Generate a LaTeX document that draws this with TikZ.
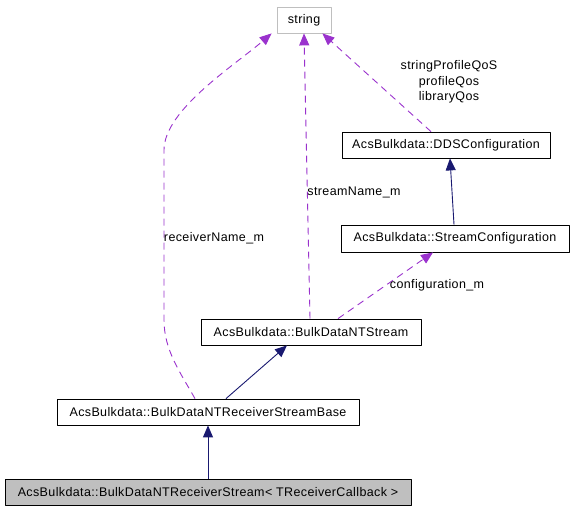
\documentclass[tikz,border=0pt]{standalone}
\usepackage{fontspec}
\setmainfont[LetterSpace=3]{Liberation Sans}
\usetikzlibrary{arrows.meta}
\definecolor{edgeblue}{HTML}{191970}
\definecolor{edgepurple}{HTML}{9A32CD}
\definecolor{boxgray}{HTML}{BFBFBF}
\begin{document}
\begin{tikzpicture}[x=1pt, y=-1pt, line join=round,
  font=\fontsize{12.5}{15.5}\selectfont,
  cls/.style={draw, thick, inner sep=0pt, minimum height=26pt},
  inherit/.style={draw=edgeblue, line width=0.9pt, -{Triangle[length=12pt,width=10pt,fill=edgeblue]}},
  member/.style={draw=edgepurple, line width=0.9pt, dash pattern=on 7pt off 5pt, -{Triangle[length=12pt,width=10pt,fill=edgepurple]}},
  lbl/.style={inner sep=0pt, align=center}]
\useasboundingbox (0,0) rectangle (573,512);
% classes
\node[cls, draw=boxgray, minimum width=54pt] (string) at (304,20) {string};
\node[cls, minimum width=208pt] (dds) at (446,145) {AcsBulkdata::DDSConfiguration};
\node[cls, minimum width=228pt, minimum height=27pt] (streamcfg) at (455,238.5) {AcsBulkdata::StreamConfiguration};
\node[cls, minimum width=220pt] (ntstream) at (311,332) {AcsBulkdata::BulkDataNTStream};
\node[cls, minimum width=302pt] (base) at (208,412) {AcsBulkdata::BulkDataNTReceiverStreamBase};
\node[cls, fill=boxgray, minimum width=406pt] (recv) at (208,492) {AcsBulkdata::BulkDataNTReceiverStream< TReceiverCallback >};
% inheritance
\draw[inherit] (recv.north) -- (base.south);
\draw[inherit] ([xshift=18pt]base.north) -- ([xshift=-24pt]ntstream.south);
\draw[inherit] ([xshift=-1pt]streamcfg.north) -- ([xshift=4pt]dds.south);
% members
\draw[member] ([xshift=27pt]ntstream.north) -- ([xshift=-22pt]streamcfg.south);
\draw[member] ([xshift=-1pt]ntstream.north) -- (string.south);
\draw[member] ([xshift=-13pt]base.north) .. controls (180,372) and (164,350) .. (164,320)
  -- (164,150) .. controls (164,110) and (235,65) .. ([xshift=-5pt]string.south west);
\draw[member] ([xshift=-15pt]dds.north) -- ([xshift=-9pt]string.south east);
% labels
\node[lbl] (cfglbl) at (437,285) {configuration\_m};
\node[lbl] (namelbl) at (354,192) {streamName\_m};
\node[lbl] (recvlbl) at (214,238) {receiverName\_m};
\node[lbl] (qoslbl) at (449,82) {stringProfileQoS\\profileQos\\libraryQos};
\end{tikzpicture}
\end{document}
